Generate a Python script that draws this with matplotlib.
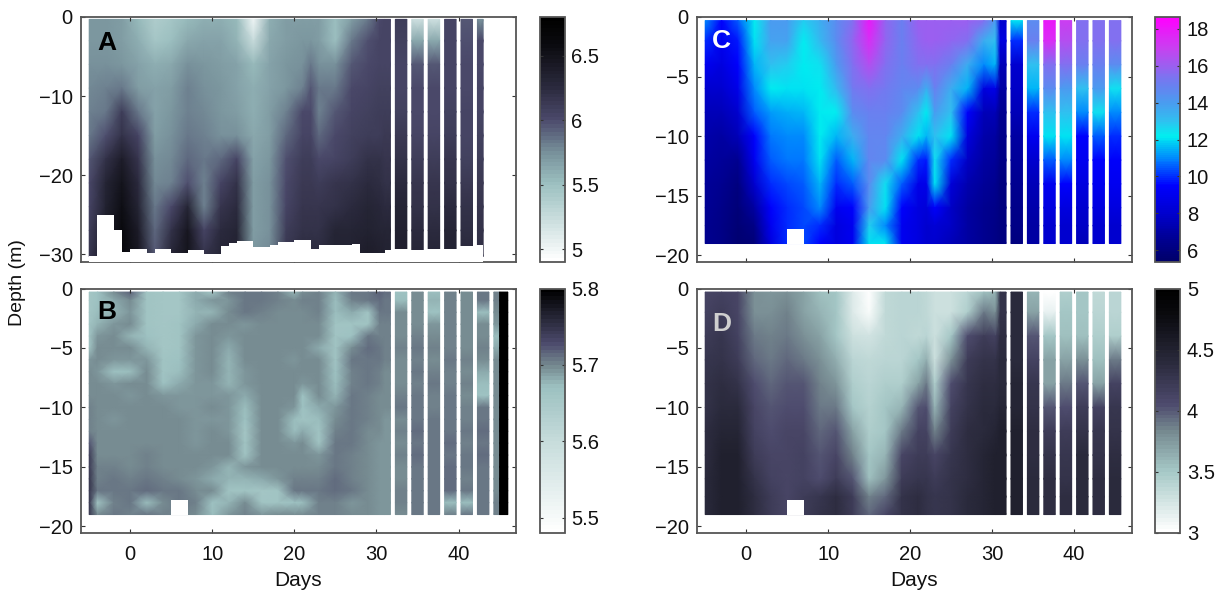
import matplotlib
matplotlib.use("Agg")
import matplotlib.pyplot as plt
import numpy as np
from matplotlib.colors import LinearSegmentedColormap, Normalize
from matplotlib.cm import ScalarMappable
from matplotlib.patches import Rectangle

plt.rcParams['font.family'] = ['Liberation Sans', 'DejaVu Sans']
plt.rcParams['axes.unicode_minus'] = True

days = [-5, -3, -1, 1, 3, 5, 7, 9, 11, 13, 15, 17, 19, 21, 22, 23, 25, 27, 29, 30.4, 31]
days_b = [-5, -4, -2, 0, 2, 4, 6, 8, 10, 12, 14, 16, 18, 20, 21, 23, 25, 27, 29, 30.4, 31]
block_end = 31.7
strip_edges = [(32.3, 33.7), (34.3, 35.7), (36.3, 37.7), (38.3, 39.7), (40.3, 41.7), (42.3, 43.7), (44.3, 45.7)]
strip_edges_a = [(32.3, 33.7), (34.3, 35.7), (36.3, 37.7), (38.3, 39.7), (40.3, 41.7), (42.3, 43.0)]
strip_edges_b = [(32.3, 33.7), (34.3, 35.7), (36.3, 37.7), (38.3, 39.7), (40.3, 41.7), (42.3, 43.7), (44.3, 45.0), (45.0, 46.0)]

depth_a = [-0.3, -3, -6, -9, -12, -15, -18, -21, -24, -27, -30.3]
depth_b = [-0.3, -1, -2, -3, -4, -5, -6, -7, -8, -9, -10, -11, -12, -13, -14, -15, -16, -17, -18, -19]
depth_cd = [-0.3, -2, -4, -6, -8, -10, -12, -14, -16, -17.5, -19]

values_a = [
    [5.72,5.72,5.68,5.55,5.40,5.45,5.55,5.60,5.60,5.55,5.00,5.60,5.70,5.70,5.70,5.68,5.50,5.68,5.85,6.00,6.05],
    [5.72,5.72,5.70,5.60,5.45,5.50,5.62,5.65,5.65,5.58,5.25,5.62,5.70,5.72,5.72,5.70,5.50,5.85,5.98,6.03,6.05],
    [5.75,5.75,5.72,5.65,5.60,5.62,5.75,5.72,5.70,5.65,5.55,5.65,5.72,5.75,5.85,5.75,5.75,5.95,6.02,6.04,6.05],
    [5.78,5.80,5.85,5.70,5.65,5.70,5.80,5.75,5.72,5.65,5.60,5.65,5.72,5.80,5.95,5.85,5.85,6.00,6.05,6.07,6.08],
    [5.80,5.85,6.10,5.85,5.65,5.72,5.82,5.78,5.72,5.70,5.60,5.68,5.80,6.00,6.00,5.80,5.95,6.05,6.08,6.09,6.10],
    [5.85,5.98,6.20,6.05,5.70,5.75,5.85,5.80,5.75,5.75,5.62,5.70,5.90,6.05,6.05,5.90,6.00,6.08,6.10,6.11,6.12],
    [5.95,6.20,6.40,6.15,5.75,5.78,5.90,5.85,5.90,6.05,5.65,5.72,5.98,6.10,6.10,6.00,6.05,6.10,6.20,6.18,6.15],
    [6.00,6.30,6.50,6.25,5.78,5.80,5.98,5.82,6.05,6.20,5.68,5.75,6.02,6.12,6.12,6.10,6.15,6.20,6.25,6.22,6.20],
    [6.05,6.35,6.55,6.30,5.85,6.00,6.30,5.82,6.15,6.25,5.68,5.75,6.05,6.15,6.15,6.15,6.20,6.25,6.30,6.28,6.25],
    [6.10,6.40,6.60,6.40,5.90,6.20,6.45,6.05,6.25,6.30,5.70,5.75,6.10,6.20,6.20,6.20,6.30,6.30,6.35,6.32,6.30],
    [6.15,6.45,6.65,6.45,5.95,6.30,6.50,6.20,6.30,6.35,5.72,5.78,6.15,6.25,6.25,6.25,6.35,6.35,6.40,6.38,6.35],
]
strips_a = [
    [6.10,5.20,5.20,6.05,5.95,5.75],
    [6.08,5.62,5.62,6.05,5.97,6.00],
    [6.05,5.95,5.95,6.05,6.00,6.02],
    [6.05,6.00,6.00,6.05,6.02,6.03],
    [6.08,6.02,6.02,6.08,6.03,6.05],
    [6.12,6.05,6.05,6.10,6.05,6.08],
    [6.18,6.10,6.10,6.15,6.08,6.10],
    [6.25,6.15,6.15,6.20,6.12,6.12],
    [6.30,6.20,6.20,6.25,6.18,6.15],
    [6.35,6.25,6.25,6.30,6.22,6.18],
    [6.38,6.30,6.30,6.35,6.28,6.22],
]

values_b = [
    [5.655,5.670,5.695,5.720,5.665,5.655,5.655,5.685,5.665,5.700,5.705,5.705,5.700,5.680,5.695,5.700,5.680,5.705,5.710,5.720,5.715],
    [5.655,5.670,5.685,5.695,5.660,5.655,5.655,5.685,5.690,5.690,5.705,5.705,5.700,5.695,5.700,5.700,5.675,5.700,5.705,5.715,5.710],
    [5.655,5.675,5.680,5.690,5.660,5.655,5.655,5.680,5.680,5.695,5.705,5.700,5.695,5.695,5.695,5.700,5.675,5.685,5.665,5.705,5.705],
    [5.660,5.680,5.690,5.695,5.665,5.655,5.660,5.685,5.695,5.695,5.690,5.695,5.695,5.695,5.695,5.695,5.665,5.660,5.665,5.700,5.700],
    [5.660,5.690,5.695,5.680,5.670,5.655,5.660,5.690,5.695,5.690,5.695,5.695,5.695,5.695,5.695,5.695,5.660,5.670,5.705,5.700,5.700],
    [5.665,5.695,5.695,5.695,5.680,5.655,5.665,5.690,5.695,5.685,5.695,5.695,5.695,5.695,5.695,5.685,5.660,5.695,5.715,5.705,5.700],
    [5.690,5.695,5.690,5.690,5.690,5.660,5.670,5.690,5.695,5.680,5.695,5.695,5.695,5.690,5.695,5.695,5.665,5.705,5.710,5.705,5.700],
    [5.695,5.690,5.670,5.675,5.695,5.665,5.675,5.690,5.695,5.680,5.690,5.695,5.695,5.695,5.695,5.695,5.670,5.700,5.705,5.700,5.695],
    [5.695,5.695,5.690,5.695,5.695,5.670,5.685,5.690,5.690,5.680,5.690,5.695,5.695,5.695,5.690,5.695,5.675,5.700,5.705,5.700,5.695],
    [5.695,5.695,5.695,5.690,5.695,5.690,5.690,5.690,5.690,5.690,5.685,5.695,5.695,5.695,5.670,5.695,5.680,5.705,5.700,5.695,5.695],
    [5.700,5.695,5.695,5.695,5.695,5.695,5.690,5.690,5.695,5.690,5.675,5.695,5.695,5.690,5.670,5.685,5.690,5.705,5.700,5.695,5.695],
    [5.700,5.695,5.690,5.695,5.695,5.695,5.695,5.690,5.690,5.690,5.670,5.695,5.695,5.675,5.665,5.675,5.695,5.705,5.700,5.695,5.690],
    [5.700,5.695,5.695,5.695,5.695,5.695,5.695,5.690,5.695,5.690,5.655,5.695,5.695,5.675,5.685,5.665,5.700,5.705,5.695,5.695,5.690],
    [5.725,5.695,5.695,5.695,5.695,5.695,5.695,5.690,5.695,5.695,5.660,5.695,5.695,5.690,5.695,5.665,5.705,5.705,5.695,5.690,5.690],
    [5.740,5.695,5.695,5.695,5.700,5.695,5.695,5.695,5.695,5.695,5.660,5.695,5.695,5.695,5.695,5.690,5.710,5.700,5.695,5.690,5.690],
    [5.740,5.700,5.700,5.695,5.700,5.695,5.695,5.695,5.690,5.680,5.690,5.695,5.695,5.695,5.695,5.695,5.705,5.700,5.695,5.690,5.690],
    [5.745,5.700,5.705,5.700,5.705,5.700,5.695,5.690,5.685,5.680,5.680,5.685,5.690,5.700,5.700,5.700,5.715,5.700,5.695,5.690,5.690],
    [5.745,5.705,5.705,5.710,5.715,5.710,5.705,5.695,5.695,5.665,5.660,5.655,5.665,5.705,5.705,5.710,5.715,5.705,5.695,5.690,5.690],
    [5.745,5.665,5.700,5.710,5.675,5.695,5.705,5.700,5.670,5.680,5.695,5.665,5.660,5.670,5.675,5.700,5.700,5.690,5.695,5.690,5.690],
    [5.745,5.695,5.705,5.700,5.705,5.700,5.700,5.695,5.675,5.690,5.700,5.690,5.695,5.695,5.695,5.700,5.700,5.695,5.695,5.690,5.690],
]
strips_b = [
    [5.670,5.695,5.675,5.700,5.695,5.705,5.700,5.80],
    [5.675,5.695,5.680,5.700,5.695,5.705,5.700,5.80],
    [5.695,5.695,5.670,5.700,5.695,5.675,5.695,5.80],
    [5.695,5.695,5.690,5.700,5.695,5.695,5.690,5.80],
    [5.695,5.700,5.695,5.700,5.695,5.695,5.675,5.80],
    [5.700,5.705,5.700,5.700,5.695,5.700,5.685,5.80],
    [5.695,5.700,5.695,5.705,5.700,5.695,5.695,5.80],
    [5.695,5.705,5.700,5.700,5.695,5.685,5.695,5.80],
    [5.695,5.700,5.705,5.700,5.700,5.675,5.695,5.80],
    [5.700,5.705,5.700,5.705,5.695,5.670,5.695,5.80],
    [5.705,5.710,5.700,5.705,5.700,5.705,5.695,5.80],
    [5.695,5.705,5.710,5.710,5.700,5.710,5.695,5.80],
    [5.700,5.715,5.705,5.705,5.705,5.715,5.695,5.80],
    [5.695,5.710,5.710,5.715,5.700,5.710,5.695,5.80],
    [5.700,5.715,5.705,5.710,5.705,5.715,5.695,5.80],
    [5.695,5.710,5.710,5.715,5.705,5.705,5.695,5.80],
    [5.695,5.705,5.705,5.715,5.700,5.710,5.695,5.80],
    [5.700,5.710,5.710,5.715,5.710,5.705,5.695,5.80],
    [5.700,5.705,5.710,5.675,5.675,5.710,5.700,5.80],
    [5.695,5.705,5.705,5.700,5.705,5.705,5.700,5.80],
]

values_c = [
    [11.0,9.5,10.5,12.3,14.0,14.0,12.8,13.5,14.5,15.5,18.0,15.8,15.0,16.0,16.0,16.0,16.0,16.0,15.5,14.0,8.0],
    [10.0,9.0,9.8,12.0,13.8,13.8,12.3,13.2,14.5,15.8,17.5,15.8,15.0,15.8,16.0,16.0,15.8,15.5,13.5,13.0,8.5],
    [9.0,8.5,9.5,11.5,13.0,12.8,12.2,12.5,14.0,15.5,16.5,15.5,15.0,15.5,15.5,15.5,15.0,13.5,11.0,11.5,7.5],
    [8.0,8.0,8.8,11.0,12.2,12.0,12.0,12.2,13.2,15.2,15.5,15.2,14.8,14.5,13.5,15.0,13.5,11.5,8.5,8.8,7.0],
    [7.5,7.5,8.0,10.5,11.2,11.4,11.5,12.2,12.3,14.5,15.0,15.0,14.5,13.0,12.2,14.0,13.0,9.5,7.5,7.5,6.5],
    [7.2,7.0,7.5,9.5,10.8,11.0,11.0,12.2,11.5,13.5,14.8,14.8,13.5,12.0,11.5,13.0,12.0,8.5,7.2,7.0,6.3],
    [7.0,6.8,6.5,9.0,10.5,10.8,10.8,12.0,10.5,11.5,14.8,14.5,12.0,10.0,9.8,12.5,10.0,7.8,7.0,6.8,6.2],
    [6.8,6.5,6.0,8.0,10.0,10.3,10.5,11.5,10.0,10.5,14.5,12.5,10.5,8.8,8.8,12.0,8.3,7.3,6.8,6.5,6.0],
    [6.7,6.3,5.8,7.0,9.5,10.0,10.3,11.0,9.0,9.5,14.0,12.0,9.5,8.5,8.3,9.5,7.8,7.0,6.5,6.3,6.0],
    [6.5,6.2,5.7,6.2,9.0,10.0,10.3,10.0,8.5,9.0,12.8,11.0,9.0,8.5,8.0,8.2,7.8,7.0,6.5,6.2,6.0],
    [6.5,6.2,5.6,5.8,8.5,10.0,10.3,9.5,8.5,9.0,12.0,12.0,9.0,8.5,8.0,8.0,7.5,7.0,6.5,6.2,6.0],
]
strips_c = [
    [12.0,14.5,18.0,17.0,15.5,15.5,15.5],
    [10.0,15.0,17.5,16.5,15.5,15.5,15.5],
    [8.0,13.0,15.5,15.5,15.0,15.0,14.5],
    [7.8,11.5,14.5,14.0,13.0,14.0,12.5],
    [7.5,10.0,13.0,13.0,11.0,12.5,11.0],
    [7.0,9.0,12.0,12.0,9.5,10.5,10.0],
    [6.8,8.0,10.5,11.0,9.0,9.5,9.3],
    [6.5,7.5,9.0,9.5,8.5,9.0,9.0],
    [6.3,7.2,8.5,8.5,8.0,8.5,8.5],
    [6.2,7.0,8.0,8.0,7.8,8.0,8.0],
    [6.0,7.0,8.0,8.0,7.5,8.0,8.0],
]

values_d = [
    [4.10,4.15,4.10,3.80,3.75,3.80,3.70,3.55,3.50,3.20,3.00,3.35,3.40,3.40,3.35,3.30,3.30,3.40,3.55,3.60,4.30],
    [4.15,4.20,4.10,3.80,3.80,3.85,3.70,3.60,3.50,3.20,3.05,3.35,3.40,3.40,3.35,3.30,3.30,3.45,3.90,3.80,4.30],
    [4.20,4.25,4.15,3.90,3.85,3.90,3.80,3.70,3.50,3.30,3.25,3.35,3.40,3.35,3.40,3.30,3.50,4.05,4.20,4.15,4.35],
    [4.25,4.30,4.20,3.95,3.90,3.95,3.90,3.80,3.65,3.40,3.35,3.40,3.40,3.50,3.65,3.30,3.80,4.20,4.30,4.30,4.40],
    [4.30,4.35,4.30,4.05,3.95,4.00,4.00,3.85,3.75,3.45,3.40,3.45,3.45,3.70,3.90,3.45,4.05,4.25,4.35,4.35,4.40],
    [4.30,4.40,4.40,4.10,4.00,4.05,4.05,3.90,3.90,3.50,3.42,3.50,3.60,4.00,4.05,3.60,4.15,4.30,4.40,4.40,4.45],
    [4.35,4.45,4.45,4.15,4.05,4.10,4.10,3.95,4.00,3.70,3.45,3.50,3.90,4.15,4.15,3.85,4.20,4.35,4.40,4.45,4.50],
    [4.35,4.50,4.50,4.20,4.10,4.10,4.15,4.00,4.10,3.85,3.50,3.60,4.10,4.20,4.20,4.10,4.25,4.35,4.45,4.50,4.50],
    [4.40,4.50,4.50,4.30,4.15,4.10,4.15,4.05,4.20,4.00,3.55,3.75,4.20,4.25,4.25,4.20,4.30,4.35,4.45,4.50,4.50],
    [4.40,4.50,4.50,4.35,4.20,4.10,4.20,4.25,4.35,4.20,3.85,3.95,4.30,4.35,4.30,4.25,4.30,4.40,4.45,4.50,4.50],
    [4.40,4.50,4.50,4.35,4.20,4.10,4.20,4.30,4.35,4.20,3.95,4.10,4.30,4.35,4.30,4.25,4.30,4.40,4.45,4.50,4.50],
]
strips_d = [
    [4.40,3.60,3.00,3.45,3.50,3.35,3.40],
    [4.40,3.70,3.15,3.50,3.50,3.40,3.40],
    [4.40,4.00,3.50,3.55,3.55,3.45,3.45],
    [4.40,4.15,3.70,3.70,3.80,3.55,3.90],
    [4.45,4.25,3.70,3.90,4.00,3.70,4.15],
    [4.45,4.30,4.00,4.05,4.20,4.15,4.25],
    [4.50,4.35,4.20,4.20,4.30,4.25,4.30],
    [4.50,4.35,4.30,4.25,4.40,4.30,4.35],
    [4.50,4.40,4.35,4.30,4.40,4.35,4.40],
    [4.50,4.40,4.35,4.35,4.40,4.35,4.40],
    [4.50,4.40,4.35,4.35,4.40,4.35,4.40],
]

# Panel A sea-bed mask: step edges (days) and depth of the bottom in each step
bottom_days = [-5,-4,-2,-1,0,2,3,5,7,9,11,12,13,15,17,18,20,22,23,25,27,28,29,31,32,34,36,38,40,42,43]
bottom_depth = [-30.2,-25,-26.9,-29.7,-29.4,-29.9,-29.4,-29.9,-29.5,-30,-29,-28.6,-28.4,-29.1,-28.9,-28.5,-28.2,-29.3,-28.8,-28.9,-28.7,-29.8,-29.9,-29.5,-29.4,-29.5,-29.4,-29.4,-29,-28.9]
gap_days = (5, 7)
gap_depth = (-19, -17.8)

W, H = 1225, 592
def rect(l, t, r, b):
    return [l / W, 1 - b / H, (r - l) / W, (b - t) / H]

def ramp(anchors):
    return LinearSegmentedColormap.from_list('r', anchors, N=64)

cmap_a = ramp([(0, '#ffffff'), (.316, '#9cc0c0'), (.447, '#77909a'), (.58, '#4c4a6c'), (.71, '#2c2b3f'), (.895, '#0a0a0e'), (1, '#000000')])
cmap_b = ramp([(0, '#ffffff'), (.375, '#c6dcdb'), (.6, '#9cc0c0'), (.69, '#74878e'), (.78, '#4c4a6c'), (.875, '#2a2a3c'), (1, '#000000')])
cmap_d = ramp([(0, '#ffffff'), (.25, '#a5c8c6'), (.42, '#74878e'), (.525, '#4e4b6e'), (.7, '#2a2a3c'), (.9, '#0a0a0e'), (1, '#000000')])
span_c = 18.65 - 5.35
cmap_c = LinearSegmentedColormap.from_list('c', [
    (0, '#00006a'), ((6.5 - 5.35) / span_c, '#000090'), ((8 - 5.35) / span_c, '#0000d0'),
    ((9.5 - 5.35) / span_c, '#0000ff'), ((10.8 - 5.35) / span_c, '#0078ff'),
    ((12.2 - 5.35) / span_c, '#00f0f0'), ((13 - 5.35) / span_c, '#30c0f0'),
    ((14 - 5.35) / span_c, '#4a9cf0'), ((15 - 5.35) / span_c, '#6a80f0'),
    ((16 - 5.35) / span_c, '#9a60f0'), ((17 - 5.35) / span_c, '#c840f0'), (1, '#ff00ff')], N=128)

FRAME = '#555555'
FS = 14.5

def style(ax):
    for s in ax.spines.values():
        s.set_color(FRAME)
        s.set_linewidth(1.3)
    ax.tick_params(direction='in', top=True, right=True, length=3, width=0.8, color='#333333',
                   labelsize=FS, pad=6, labelcolor='#111111')

panels = [
    dict(box=(81, 17, 516, 262), cbox=(539.5, 17, 564.5, 262), ylim=(-31, 0), yt=[0, -10, -20, -30],
         days=days, depth=depth_a, vals=values_a, strips=strips_a, edges=strip_edges_a, cmap=cmap_a, vr=(4.9, 6.8),
         ct=[5, 5.5, 6, 6.5], cl=['5', '5.5', '6', '6.5'], label='A', lc='black', lpos=(-2.9, -3.3), xl=False),
    dict(box=(81, 288.5, 516, 533), cbox=(539.5, 288.5, 564.5, 533), ylim=(-20.55, 0), yt=[0, -5, -10, -15, -20],
         days=days_b, depth=depth_b, vals=values_b, strips=strips_b, edges=strip_edges_b, cmap=cmap_b, vr=(5.48, 5.8),
         ct=[5.5, 5.6, 5.7, 5.8], cl=['5.5', '5.6', '5.7', '5.8'], label='B', lc='black', lpos=(-2.9, -2.0), xl=True),
    dict(box=(697, 17, 1131.5, 262), cbox=(1155, 17, 1180, 262), ylim=(-20.55, 0), yt=[0, -5, -10, -15, -20],
         days=days, depth=depth_cd, vals=values_c, strips=strips_c, edges=strip_edges, cmap=cmap_c, vr=(5.35, 18.65),
         ct=[6, 8, 10, 12, 14, 16, 18], cl=['6', '8', '10', '12', '14', '16', '18'], label='C', lc='white', lpos=(-3, -2.0), xl=False),
    dict(box=(697, 288.5, 1131.5, 533), cbox=(1155, 288.5, 1180, 533), ylim=(-20.55, 0), yt=[0, -5, -10, -15, -20],
         days=days, depth=depth_cd, vals=values_d, strips=strips_d, edges=strip_edges, cmap=cmap_d, vr=(3, 5),
         ct=[3, 3.5, 4, 4.5, 5], cl=['3', '3.5', '4', '4.5', '5'], label='D', lc='#cfcfcf', lpos=(-3, -3.0), xl=True),
]

fig = plt.figure(figsize=(W / 100, H / 100), dpi=100, facecolor='white')

for p in panels:
    ax = fig.add_axes(rect(*p['box']))
    norm = Normalize(*p['vr'])
    dep = np.array(p['depth'])
    Z = np.array(p['vals'], float)
    X = np.array(p['days'] + [block_end], float)
    Zb = np.column_stack([Z, Z[:, -1]])
    ax.pcolormesh(X, dep, Zb, shading='gouraud', cmap=p['cmap'], norm=norm, rasterized=True)
    S = np.array(p['strips'], float)
    for j, (l, r) in enumerate(p['edges']):
        col = S[:, j]
        ax.pcolormesh([l, r], dep, np.column_stack([col, col]), shading='gouraud', cmap=p['cmap'], norm=norm)
    if p['label'] == 'A':
        bx = np.array(bottom_days, float)
        bd = np.array(bottom_depth + [bottom_depth[-1]], float)
        ax.fill_between(bx, -31, bd, step='post', color='white', lw=0, zorder=3)
    else:
        ax.add_patch(Rectangle((gap_days[0], gap_depth[0]), gap_days[1] - gap_days[0], gap_depth[1] - gap_depth[0],
                               fc='white', ec='none', zorder=3))
    ax.set_xlim(-6, 47)
    ax.set_ylim(*p['ylim'])
    ax.set_xticks([0, 10, 20, 30, 40])
    ax.set_yticks(p['yt'])
    style(ax)
    if p['xl']:
        ax.set_xlabel('Days', fontsize=FS + 0.5, color='#111111', labelpad=5)
        ax.tick_params(axis='x', pad=9)
    else:
        ax.set_xticklabels([])
    ax.text(*p['lpos'], p['label'], color=p['lc'], fontsize=19, fontweight='bold', ha='center', va='center', zorder=5)

    cax = fig.add_axes(rect(*p['cbox']))
    cb = fig.colorbar(ScalarMappable(norm=norm, cmap=p['cmap']), cax=cax)
    cb.set_ticks(p['ct'], labels=p['cl'])
    cb.outline.set_edgecolor(FRAME)
    cb.outline.set_linewidth(1.3)
    cax.minorticks_off()
    cax.tick_params(direction='in', left=True, right=True, length=2.5, width=0.8, color='#333333',
                    labelsize=FS, pad=5, labelcolor='#111111')

fig.text(18 / W, 1 - 283 / H, 'Depth (m)', rotation=90, ha='center', va='center', fontsize=FS - 0.5, color='#111111')
fig.savefig('out.png', dpi=100, facecolor='white')
